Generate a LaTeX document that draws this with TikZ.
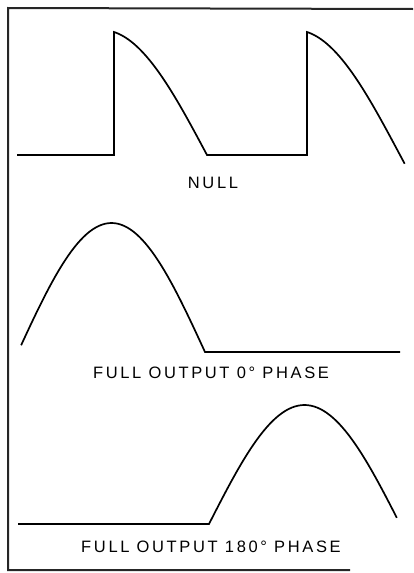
\documentclass[tikz,border=0pt]{standalone}
\usepackage{fontspec}
\newfontfamily\labelfont[LetterSpace=16]{Liberation Sans}
\begin{document}
\begin{tikzpicture}[x=1pt,y=-1pt,
  wave/.style={line width=1.7pt,black,line join=miter},
  frameline/.style={line width=2pt,black!85},
  lbl/.style={font=\labelfont\fontsize{16.5}{19}\selectfont,inner sep=0pt,anchor=center}]
\useasboundingbox (0,0) rectangle (413,573);
% frame
\coordinate (tl) at (8,8);
\coordinate (tr) at (413,9);
\coordinate (bl) at (8,570);
\coordinate (br) at (350,570);
\draw[frameline] (tr) -- (tl) -- (bl) -- (br);
% panel 1: NULL
\coordinate (a0) at (17,155);
\coordinate (a1) at (114,155);
\coordinate (a3) at (307,155);
\draw[wave] (a0) -- (a1) -- (114,32)
  -- plot[domain=10:90,samples=40,variable=\t] ({114+(\t-10)*1.1625},{155-124.9*cos(\t)})
  -- (a3) -- (307,32)
  -- plot[domain=10:94,samples=40,variable=\t] ({307+(\t-10)*1.1625},{155-124.9*cos(\t)});
\node[lbl] (n1) at (213,183) {NULL};
% panel 2: FULL OUTPUT 0 deg
\coordinate (b2) at (400,352);
\draw[wave] plot[domain=3:180,samples=60,variable=\t] ({18+\t*1.0389},{352-129*sin(\t)})
  -- (b2);
\node[lbl] (n2) at (211,373) {FULL OUTPUT 0° PHASE};
% panel 3: FULL OUTPUT 180 deg
\coordinate (c0) at (18,524);
\coordinate (c1) at (209,524);
\draw[wave] (c0) -- (c1)
  -- plot[domain=0:177,samples=60,variable=\t] ({209+\t*1.0611},{524-119*sin(\t)});
\node[lbl] (n3) at (211,547) {FULL OUTPUT 180° PHASE};
\end{tikzpicture}
\end{document}
